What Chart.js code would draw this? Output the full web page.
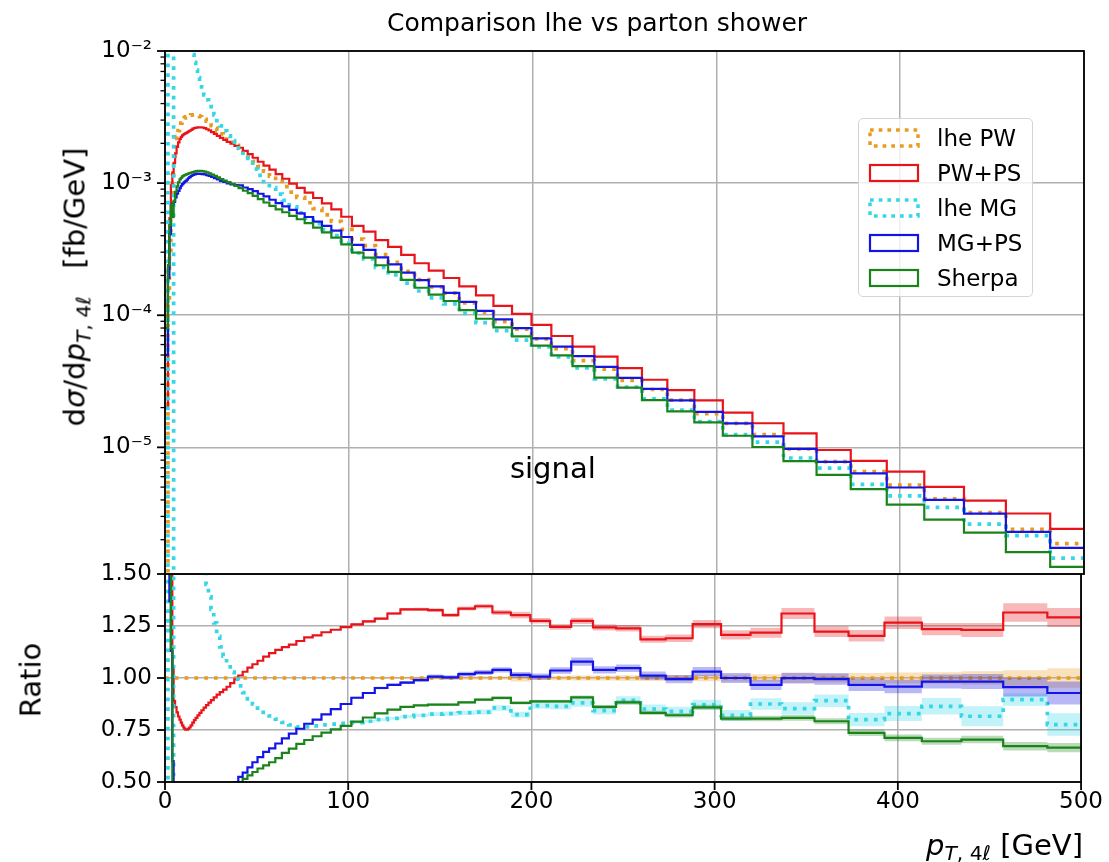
<!DOCTYPE html>
<html>
<head>
<meta charset="utf-8">
<script src="https://cdn.jsdelivr.net/npm/chart.js@4.4.1/dist/chart.umd.min.js"></script>
<style>
  body { margin: 0; background: #fff; font-family: "DejaVu Sans", sans-serif; }
  #fig { position: relative; width: 1109px; height: 862px; overflow: hidden; background: #fff; }
  canvas { position: absolute; left: 0; }
  #cTop { top: 0; }
  #cRatio { top: 560px; }
  .lbl { position: absolute; white-space: nowrap; color: #000; line-height: 1; }
  .lbl sub { font-size: 70%; vertical-align: -0.28em; line-height: 0; }
  .rot { transform: translate(-50%, -50%) rotate(-90deg); }
  #legend { position: absolute; left: 858px; top: 118px; width: 175px; height: 179px;
            box-sizing: border-box; border: 1px solid #d4d4d4; border-radius: 5px;
            background: rgba(255,255,255,0.8); }
  .row { position: absolute; left: 9px; height: 30px; display: flex; align-items: center; }
  .row svg { display: block; }
  .row span { position: absolute; left: 69px; font-size: 23px; white-space: nowrap; }
</style>
</head>
<body>
<div id="fig">
  <canvas id="cTop" width="1109" height="575"></canvas>
  <canvas id="cRatio" width="1109" height="302"></canvas>

  <div class="lbl" style="left:597px; top:22px; transform:translate(-50%,-50%); font-size:25px;">Comparison lhe vs parton shower</div>
  <div class="lbl rot" style="left:75px; top:287px; font-size:29px;">d<i>σ</i>/d<i>p</i><sub><i>T</i>, 4<i>ℓ</i></sub>&nbsp;&nbsp;&nbsp;[fb/GeV]</div>
  <div class="lbl rot" style="left:31px; top:680px; font-size:29px;">Ratio</div>
  <div class="lbl" style="right:26px; top:845px; transform:translateY(-50%); font-size:29px;"><i>p</i><sub><i>T</i>, 4<i>ℓ</i></sub> [GeV]</div>

  <div id="legend"></div>
</div>

<script>
// bin edges of the pT(4l) histogram [GeV]
const edges = [0, 1.6, 2.4, 3.2, 4.0, 4.7, 5.5, 6.3, 7.1, 7.9, 8.6, 9.3, 10.0,
  10.5, 11.1, 11.8, 12.5, 13.2, 14.0, 14.9, 15.8, 16.7, 17.7, 18.8, 19.9, 21.1, 22.4,
  23.7, 25.1, 26.6, 28.2, 29.9, 31.7, 33.6, 35.6, 37.8, 40.0, 42.4, 45.0, 47.7, 50.5,
  53.6, 56.8, 60.2, 63.8, 67.6, 71.7, 76.0, 80.6, 85.4, 90.5, 95.9,
  101.7, 108.0, 114.5, 121.4, 128.5, 135.8, 143.5, 151.6, 160.1, 169.2, 178.7, 188.8,
  199.4, 210.2, 221.7, 233.6, 246.2, 259.5, 273.3, 288.0, 303.5, 319.6, 336.5, 354.5,
  373.1, 392.7, 413.1, 434.7, 457.5, 481.6, 506.0];

// lhe PW  dsigma/dpT [fb/GeV] (reference for the ratio)
const lhePW = [1.0e-6, 1.2e-4, 3.0e-4, 6.0e-4, 1.15e-3, 1.6e-3, 1.95e-3, 2.25e-3, 2.5e-3, 2.7e-3, 2.85e-3, 2.98e-3,
  3.06e-3, 3.12e-3, 3.18e-3, 3.22e-3, 3.25e-3, 3.27e-3, 3.28e-3, 3.29e-3, 3.28e-3, 3.26e-3,
  3.23e-3, 3.18e-3, 3.12e-3, 3.04e-3, 2.94e-3, 2.84e-3, 2.72e-3, 2.60e-3, 2.48e-3, 2.36e-3,
  2.25e-3, 2.14e-3, 2.04e-3, 1.93e-3, 1.83e-3, 1.70e-3, 1.58e-3, 1.46e-3, 1.34e-3, 1.23e-3,
  1.13e-3, 1.03e-3, 9.4e-4, 8.55e-4, 7.8e-4, 7.1e-4, 6.4e-4, 5.75e-4, 5.14e-4, 4.47e-4,
  3.77e-4, 3.37e-4, 2.88e-4, 2.51e-4, 2.15e-4, 1.86e-4, 1.64e-4, 1.47e-4, 1.24e-4, 1.05e-4,
  8.94e-5, 7.86e-5, 6.63e-5, 5.59e-5, 4.54e-5, 3.91e-5, 3.21e-5, 2.74e-5, 2.28e-5, 1.80e-5,
  1.52e-5, 1.25e-5, 9.74e-6, 7.81e-6, 6.56e-6, 5.18e-6, 4.07e-6, 3.21e-6, 2.40e-6, 1.87e-6];

// ratios to lhe PW
const ratioPWPS = [20, 1.9, 1.8, 1.6, 1.05, 0.89, 0.86, 0.835, 0.815, 0.80, 0.785, 0.772,
  0.763, 0.757, 0.752, 0.752, 0.755, 0.762, 0.772, 0.785, 0.797, 0.808,
  0.82, 0.832, 0.845, 0.858, 0.87, 0.882, 0.894, 0.907, 0.92, 0.932,
  0.944, 0.958, 0.975, 0.993, 1.012, 1.03, 1.05, 1.066, 1.083, 1.103,
  1.12, 1.135, 1.148, 1.16, 1.178, 1.195, 1.205, 1.22, 1.232, 1.245,
  1.258, 1.272, 1.285, 1.31, 1.33, 1.33, 1.326, 1.302, 1.334, 1.345,
  1.315, 1.302, 1.275, 1.246, 1.275, 1.243, 1.239, 1.186, 1.191, 1.259,
  1.207, 1.218, 1.31, 1.223, 1.203, 1.266, 1.235, 1.231, 1.315, 1.291];

const ratioLheMG = [50000, 0.0001, 0.0001, 0.0001, 0.0001, 40, 30, 22, 17, 13.5, 11, 9,
  7.5, 6.6, 5.8, 5.0, 4.4, 3.85, 3.3, 2.85, 2.5, 2.2,
  1.95, 1.75, 1.6, 1.53, 1.45, 1.39, 1.33, 1.265, 1.2, 1.15,
  1.105, 1.065, 1.028, 0.995, 0.962, 0.93, 0.9, 0.875, 0.855, 0.835,
  0.818, 0.802, 0.787, 0.775, 0.765, 0.765, 0.77, 0.775, 0.778, 0.782,
  0.785, 0.792, 0.8, 0.806, 0.814, 0.82, 0.826, 0.829, 0.833, 0.836,
  0.856, 0.824, 0.867, 0.864, 0.88, 0.843, 0.892, 0.851, 0.84, 0.872,
  0.82, 0.875, 0.853, 0.891, 0.80, 0.829, 0.864, 0.816, 0.896, 0.776];

const ratioMGPS = [50, 1.6, 1.37, 1.13, 0.6, 0.45, 0.4, 0.37, 0.35, 0.34, 0.335, 0.33,
  0.328, 0.327, 0.327, 0.33, 0.335, 0.34, 0.345, 0.35, 0.355, 0.36,
  0.365, 0.37, 0.375, 0.383, 0.39, 0.4, 0.41, 0.42, 0.43, 0.44,
  0.453, 0.466, 0.48, 0.5, 0.525, 0.545, 0.57, 0.595, 0.62, 0.645,
  0.662, 0.685, 0.71, 0.733, 0.756, 0.78, 0.8, 0.825, 0.85, 0.875,
  0.905, 0.928, 0.952, 0.967, 0.978, 0.99, 1.007, 1.003, 1.019, 1.026,
  1.039, 1.015, 1.007, 1.036, 1.079, 1.039, 1.047, 1.011, 0.995, 1.031,
  1.00, 0.967, 0.999, 0.995, 0.967, 0.959, 0.983, 0.983, 0.956, 0.928];

const ratioSherpa = [80, 2.0, 1.6, 1.14, 0.48, 0.46, 0.44, 0.42, 0.405, 0.395, 0.385, 0.378,
  0.372, 0.368, 0.365, 0.363, 0.363, 0.364, 0.366, 0.369, 0.373, 0.378,
  0.383, 0.389, 0.395, 0.402, 0.41, 0.418, 0.427, 0.436, 0.445, 0.455,
  0.465, 0.475, 0.485, 0.493, 0.5, 0.515, 0.532, 0.548, 0.565, 0.58,
  0.595, 0.615, 0.64, 0.66, 0.683, 0.702, 0.72, 0.737, 0.753, 0.77,
  0.79, 0.81, 0.83, 0.848, 0.861, 0.868, 0.872, 0.872, 0.883, 0.896,
  0.904, 0.88, 0.888, 0.888, 0.907, 0.861, 0.883, 0.832, 0.821, 0.859,
  0.805, 0.805, 0.808, 0.792, 0.736, 0.712, 0.696, 0.704, 0.672, 0.665];

// statistical half-widths of the ratio bands, from bin 52 (101.7 GeV) on
const bandFirstBin = 52;
const errLhePW = [0.004, 0.004, 0.005, 0.005, 0.006, 0.006, 0.007, 0.007, 0.008, 0.008,
  0.009, 0.017, 0.01, 0.011, 0.012, 0.012, 0.013, 0.014, 0.015, 0.016,
  0.017, 0.018, 0.024, 0.022, 0.024, 0.026, 0.028, 0.032, 0.037, 0.047];
const errPWPS = [0.005, 0.006, 0.006, 0.007, 0.007, 0.008, 0.009, 0.009, 0.01, 0.011,
  0.012, 0.016, 0.013, 0.014, 0.015, 0.015, 0.016, 0.017, 0.018, 0.02,
  0.022, 0.024, 0.026, 0.026, 0.028, 0.03, 0.03, 0.034, 0.044, 0.046];
const errLheMG = [0.006, 0.006, 0.007, 0.007, 0.008, 0.008, 0.009, 0.01, 0.011, 0.012,
  0.013, 0.014, 0.015, 0.016, 0.018, 0.019, 0.02, 0.021, 0.022, 0.024,
  0.026, 0.028, 0.03, 0.03, 0.032, 0.036, 0.04, 0.048, 0.03, 0.054];
const errMGPS = [0.005, 0.005, 0.006, 0.006, 0.007, 0.008, 0.01, 0.01, 0.011, 0.012,
  0.013, 0.014, 0.015, 0.016, 0.02, 0.017, 0.018, 0.02, 0.02, 0.022,
  0.024, 0.025, 0.026, 0.028, 0.03, 0.032, 0.034, 0.036, 0.045, 0.055];
const errSherpa = [0.003, 0.003, 0.003, 0.004, 0.004, 0.004, 0.005, 0.005, 0.006, 0.006,
  0.007, 0.007, 0.008, 0.008, 0.009, 0.009, 0.01, 0.01, 0.011, 0.012,
  0.012, 0.013, 0.014, 0.014, 0.015, 0.016, 0.017, 0.018, 0.02, 0.022];

const xTicks = [0, 100, 200, 300, 400, 500];
const ratioTicks = [0.5, 0.75, 1.0, 1.25, 1.5];
const yTopMin = 1.1e-6, yTopMax = 1e-2;
const signalLabel = { text: 'signal', x: 211, y: 6.7e-6 };

const series = [
  { label: 'lhe PW', color: '#e99b1f', dotted: true,  ratio: lhePW.map(v => v / v), err: errLhePW },
  { label: 'PW+PS',  color: '#e8141a', dotted: false, ratio: ratioPWPS,   err: errPWPS },
  { label: 'lhe MG', color: '#36d6e7', dotted: true,  ratio: ratioLheMG,  err: errLheMG },
  { label: 'MG+PS',  color: '#1414e6', dotted: false, ratio: ratioMGPS,   err: errMGPS },
  { label: 'Sherpa', color: '#1a841a', dotted: false, ratio: ratioSherpa, err: errSherpa }
];

const GRID = '#b0b0b0';
const FONT = { family: '"DejaVu Sans", sans-serif', size: 23 };

// step outline: one point per left edge plus the closing right edge
function stepPoints(values) {
  const pts = values.map((v, i) => ({ x: edges[i], y: v }));
  pts.push({ x: edges[values.length], y: values[values.length - 1] });
  return pts;
}

function bandPoints(ratio, err, sign) {
  const vals = err.map((e, k) => ratio[bandFirstBin + k] + sign * e);
  const pts = vals.map((v, k) => ({ x: edges[bandFirstBin + k], y: v }));
  pts.push({ x: edges[bandFirstBin + vals.length], y: vals[vals.length - 1] });
  return pts;
}

function lineStyle(s) {
  return s.dotted
    ? { borderWidth: 3.7, borderDash: [3.7, 6.1] }
    : { borderWidth: 2.2, borderDash: [] };
}

function withAlpha(hex, a) {
  const n = parseInt(hex.slice(1), 16);
  return 'rgba(' + (n >> 16) + ',' + ((n >> 8) & 255) + ',' + (n & 255) + ',' + a + ')';
}

const SUP = { '-': '⁻', '0': '⁰', '1': '¹', '2': '²', '3': '³', '4': '⁴', '5': '⁵', '6': '⁶', '7': '⁷', '8': '⁸', '9': '⁹' };
function powLabel(v) {
  const e = String(Math.round(Math.log10(v)));
  return '10' + e.split('').map(c => SUP[c]).join('');
}

// fixed axis width, and no extra room reserved for the end labels
function fixLeftAxis(s) {
  s.width = 165;
  s.paddingTop = 0;
  s.paddingBottom = 0;
}

// black box around the axes plus outward tick marks
const frameTicks = {
  id: 'frameTicks',
  afterDraw(chart, args, opts) {
    const { ctx, chartArea: a, scales } = chart;
    ctx.save();
    ctx.strokeStyle = '#000';
    scales.y.ticks.forEach(t => {
      const py = scales.y.getPixelForValue(t.value);
      const len = t.major ? 8 : 4.5;
      ctx.lineWidth = t.major ? 1.8 : 1.3;
      ctx.beginPath();
      ctx.moveTo(a.left - len, py);
      ctx.lineTo(a.left, py);
      ctx.stroke();
    });
    if (opts.xTicks) {
      ctx.lineWidth = 1.8;
      scales.x.ticks.forEach(t => {
        const px = scales.x.getPixelForValue(t.value);
        ctx.beginPath();
        ctx.moveTo(px, a.bottom);
        ctx.lineTo(px, a.bottom + 8);
        ctx.stroke();
      });
    }
    ctx.lineWidth = 1.8;
    ctx.strokeRect(a.left, a.top, a.right - a.left, a.bottom - a.top);
    ctx.restore();
  }
};

const signalText = {
  id: 'signalText',
  afterDatasetsDraw(chart) {
    const { ctx, scales } = chart;
    ctx.save();
    ctx.font = '29px "DejaVu Sans", sans-serif';
    ctx.fillStyle = '#000';
    ctx.textAlign = 'center';
    ctx.textBaseline = 'middle';
    ctx.fillText(signalLabel.text, scales.x.getPixelForValue(signalLabel.x), scales.y.getPixelForValue(signalLabel.y));
    ctx.restore();
  }
};

const xScaleBase = {
  type: 'linear', min: 0, max: 500,
  afterBuildTicks: s => { s.ticks = xTicks.map(v => ({ value: v })); },
  grid: { color: GRID, lineWidth: 1.5, drawTicks: false },
  border: { display: false }
};

// upper panel: cross sections on a log axis
const topDatasets = series.map((s, idx) => Object.assign({
  label: s.label,
  data: stepPoints(lhePW.map((v, i) => v * s.ratio[i])),
  borderColor: s.color,
  backgroundColor: 'rgba(0,0,0,0)',
  stepped: true, pointRadius: 0, fill: false,
  order: series.length - idx
}, lineStyle(s)));

new Chart(document.getElementById('cTop'), {
  type: 'line',
  data: { datasets: topDatasets },
  options: {
    responsive: false, devicePixelRatio: 1, animation: false, events: [],
    layout: { padding: { top: 51, right: 25, bottom: 1, left: 0 } },
    plugins: { legend: { display: false }, tooltip: { enabled: false }, frameTicks: { xTicks: false } },
    scales: {
      x: Object.assign({}, xScaleBase, {
        ticks: { display: false },
        afterFit: s => { s.height = 0; s.paddingLeft = 0; s.paddingRight = 0; }
      }),
      y: {
        type: 'logarithmic', min: yTopMin, max: yTopMax,
        afterBuildTicks: s => {
          const t = [];
          for (let e = -6; e <= -3; e++) {
            for (let m = 1; m <= 9; m++) {
              const v = m * Math.pow(10, e);
              if (v >= yTopMin && v <= yTopMax) t.push({ value: v, major: m === 1 });
            }
          }
          t.push({ value: 1e-2, major: true });
          s.ticks = t;
        },
        afterFit: fixLeftAxis,
        ticks: {
          autoSkip: false, padding: 13, color: '#000', font: FONT,
          callback: (v, i, ticks) => ticks[i].major ? powLabel(v) : ''
        },
        grid: { drawTicks: false, lineWidth: 1.5, color: c => (c.tick && c.tick.major) ? GRID : 'rgba(0,0,0,0)' },
        border: { display: false }
      }
    }
  },
  plugins: [frameTicks, signalText]
});

// lower panel: ratios to lhe PW with statistical bands
const ratioDatasets = [];
series.forEach((s, idx) => {
  const ord = series.length - idx;
  ratioDatasets.push({
    data: bandPoints(s.ratio, s.err, -1), borderWidth: 0, pointRadius: 0,
    stepped: true, fill: false, order: ord + 0.5
  });
  ratioDatasets.push({
    data: bandPoints(s.ratio, s.err, 1), borderWidth: 0, pointRadius: 0,
    stepped: true, fill: '-1', backgroundColor: withAlpha(s.color, 0.3), order: ord + 0.5
  });
  ratioDatasets.push(Object.assign({
    label: s.label,
    data: stepPoints(s.ratio),
    borderColor: s.color, backgroundColor: 'rgba(0,0,0,0)',
    stepped: true, pointRadius: 0, fill: false, order: ord
  }, lineStyle(s)));
});

new Chart(document.getElementById('cRatio'), {
  type: 'line',
  data: { datasets: ratioDatasets },
  options: {
    responsive: false, devicePixelRatio: 1, animation: false, events: [],
    layout: { padding: { top: 14, right: 25, bottom: 0, left: 0 } },
    plugins: { legend: { display: false }, tooltip: { enabled: false }, frameTicks: { xTicks: true } },
    scales: {
      x: Object.assign({}, xScaleBase, {
        ticks: { padding: 6, color: '#000', font: FONT, maxRotation: 0, autoSkip: false, callback: v => String(v) },
        afterFit: s => { s.height = 80; }
      }),
      y: {
        type: 'linear', min: 0.5, max: 1.5,
        afterBuildTicks: s => { s.ticks = ratioTicks.map(v => ({ value: v, major: true })); },
        afterFit: fixLeftAxis,
        ticks: { autoSkip: false, padding: 13, color: '#000', font: FONT, callback: v => v.toFixed(2) },
        grid: { drawTicks: false, lineWidth: 1.5, color: GRID },
        border: { display: false }
      }
    }
  },
  plugins: [frameTicks]
});

// legend with outlined patches, as for step histograms
const legend = document.getElementById('legend');
series.forEach((s, i) => {
  const row = document.createElement('div');
  row.className = 'row';
  row.style.top = (4 + i * 35) + 'px';
  const dash = s.dotted ? ' stroke-dasharray="3.7 5"' : '';
  const w = s.dotted ? 3.5 : 2.2;
  row.innerHTML = '<svg width="52" height="20"><rect x="2" y="2" width="48" height="16" fill="none" stroke="' +
    s.color + '" stroke-width="' + w + '"' + dash + '/></svg><span>' + s.label + '</span>';
  legend.appendChild(row);
});
</script>
</body>
</html>
